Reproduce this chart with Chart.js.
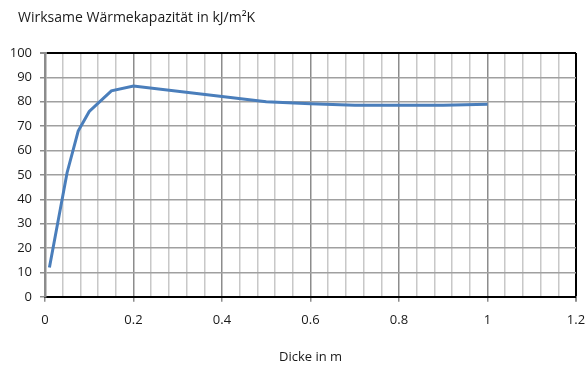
<!DOCTYPE html>
<html>
<head>
<meta charset="utf-8">
<script src="https://cdn.jsdelivr.net/npm/chart.js@4.4.1/dist/chart.umd.min.js"></script>
<style>
  html, body { margin: 0; padding: 0; background: #fff; }
  #wrap { width: 585px; height: 371px; position: relative; }
</style>
</head>
<body>
<div id="wrap"><canvas id="chartWaerme"></canvas></div>
<script>
// ── Wirksame Wärmekapazität über Dicke ──
const dicke      = [0.01, 0.05, 0.075, 0.1, 0.15, 0.2, 0.5, 0.6, 0.7, 0.8, 0.9, 1.0];
const kapazitaet = [12, 51, 68, 76, 84.5, 86.5, 80, 79.2, 78.6, 78.6, 78.6, 79];
const xTicks     = [0, 0.2, 0.4, 0.6, 0.8, 1, 1.2];
const yTicks     = [0, 10, 20, 30, 40, 50, 60, 70, 80, 90, 100];

const titel  = 'Wirksame Wärmekapazität in kJ/m²K';
const xTitel = 'Dicke in m';

const fontFam  = "'Open Sans', 'Liberation Sans', sans-serif";
const lineBlue = '#4A7EBB';
const textCol  = '#1a1a1a';

// major x positions are the labelled ones (every 0.2)
const isMajorX = v => xTicks.some(t => Math.abs(t - v) < 1e-6);

// title sits left of the plot area, so it is drawn by hand
const titelPlugin = {
  id: 'titelOben',
  afterDraw(chart) {
    const ctx = chart.ctx;
    ctx.save();
    ctx.font = '14px ' + fontFam;
    ctx.fillStyle = textCol;
    ctx.textAlign = 'left';
    ctx.textBaseline = 'middle';
    ctx.fillText(titel, 18, 18);
    ctx.restore();
  }
};

new Chart(document.getElementById('chartWaerme'), {
  type: 'line',
  data: {
    datasets: [{
      data: dicke.map((x, i) => ({ x: x, y: kapazitaet[i] })),
      borderColor: lineBlue,
      borderWidth: 3,
      pointRadius: 0,
      tension: 0,
      fill: false
    }]
  },
  plugins: [titelPlugin],
  options: {
    responsive: true,
    maintainAspectRatio: false,
    animation: false,
    layout: { padding: { left: 0, right: 0, top: 53, bottom: 0 } },
    plugins: {
      legend: { display: false },
      tooltip: { enabled: false },
      title: { display: false }
    },
    scales: {
      x: {
        type: 'linear',
        min: 0, max: 1.2,
        afterBuildTicks: s => {
          const t = [];
          for (let i = 0; i <= 30; i++) t.push({ value: +(i * 0.04).toFixed(2) });
          s.ticks = t;
        },
        // only half of the "1.2" label needs room on the right
        afterFit: s => { s.paddingRight = 9; s.paddingLeft = 0; },
        ticks: {
          autoSkip: false,
          maxRotation: 0,
          padding: 11,
          color: textCol,
          font: { family: fontFam, size: 13 },
          callback: v => isMajorX(v) ? String(+v.toFixed(1)) : ''
        },
        grid: {
          drawTicks: true,
          tickLength: 5,
          color: c => {
            const v = c.tick ? c.tick.value : 0;
            if (Math.abs(v - 1.2) < 1e-6) return '#000';
            return isMajorX(v) ? '#8c8c8c' : '#c8c8c8';
          },
          lineWidth: c => {
            const v = c.tick ? c.tick.value : 0;
            return Math.abs(v - 1.2) < 1e-6 ? 2 : 1.5;
          },
          tickColor: c => {
            const v = c.tick ? c.tick.value : 0;
            return isMajorX(v) ? '#8c8c8c' : 'rgba(0,0,0,0)';
          }
        },
        border: { display: true, color: '#000', width: 2 },
        title: {
          display: true,
          text: xTitel,
          color: textCol,
          font: { family: fontFam, size: 13 },
          padding: { top: 10, bottom: 6 }
        }
      },
      y: {
        min: 0, max: 100,
        afterBuildTicks: s => { s.ticks = yTicks.map(v => ({ value: v })); },
        afterFit: s => { s.width = 45; },
        ticks: {
          padding: 8,
          color: textCol,
          font: { family: fontFam, size: 13 }
        },
        grid: {
          tickLength: 5,
          color: c => (c.tick && c.tick.value === 100) ? '#000' : '#a0a0a0',
          lineWidth: c => (c.tick && c.tick.value === 100) ? 2 : 1.5,
          tickColor: '#8c8c8c'
        },
        border: { display: true, color: '#8c8c8c', width: 2.5 }
      }
    }
  }
});
</script>
</body>
</html>
